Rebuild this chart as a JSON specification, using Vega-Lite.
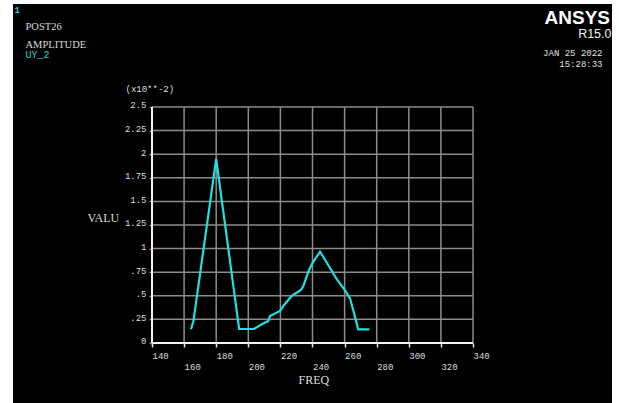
{
  "$schema": "https://vega.github.io/schema/vega-lite/v6.json",
  "width": 599,
  "height": 399,
  "autosize": "none",
  "padding": {"left": 13, "top": 4, "right": 7, "bottom": 0},
  "background": "white",
  "view": {"fill": "black", "stroke": null},
  "config": {
    "font": "Liberation Mono",
    "axis": {
      "labelFont": "Liberation Mono",
      "titleFont": "Liberation Mono",
      "labelColor": "#dcdcdc",
      "titleColor": "#dcdcdc",
      "titleFontWeight": "normal",
      "grid": false,
      "domain": false,
      "labelOverlap": false,
      "labelFlush": false,
      "labelBound": false
    }
  },
  "data": {
    "values": [
      {"FREQ": 164.3, "VALU": 0.145},
      {"FREQ": 165.8, "VALU": 0.23},
      {"FREQ": 180.0, "VALU": 1.95},
      {"FREQ": 194.3, "VALU": 0.148},
      {"FREQ": 203.5, "VALU": 0.148},
      {"FREQ": 208.4, "VALU": 0.198},
      {"FREQ": 212.5, "VALU": 0.233},
      {"FREQ": 213.5, "VALU": 0.286},
      {"FREQ": 219.8, "VALU": 0.339},
      {"FREQ": 221.8, "VALU": 0.392},
      {"FREQ": 227.0, "VALU": 0.498},
      {"FREQ": 232.8, "VALU": 0.561},
      {"FREQ": 234.3, "VALU": 0.604},
      {"FREQ": 237.4, "VALU": 0.755},
      {"FREQ": 240.1, "VALU": 0.851},
      {"FREQ": 244.7, "VALU": 0.967},
      {"FREQ": 249.8, "VALU": 0.826},
      {"FREQ": 255.1, "VALU": 0.675},
      {"FREQ": 260.2, "VALU": 0.561},
      {"FREQ": 263.4, "VALU": 0.473},
      {"FREQ": 268.5, "VALU": 0.145},
      {"FREQ": 275.4, "VALU": 0.145}
    ]
  },
  "layer": [
    {
      "data": {"values": [{"FREQ": 160}, {"FREQ": 180}, {"FREQ": 200}, {"FREQ": 220}, {"FREQ": 240}, {"FREQ": 260}, {"FREQ": 280}, {"FREQ": 300}, {"FREQ": 320}, {"FREQ": 340}]},
      "mark": {"type": "rule", "color": "#8c8c8c", "strokeWidth": 1.5},
      "encoding": {
        "x": {"field": "FREQ", "type": "quantitative", "scale": {"domain": [53.4, 426.6], "nice": false, "zero": false}, "axis": null},
        "y": {"datum": 0, "type": "quantitative", "scale": {"domain": [-0.636, 3.591], "nice": false, "zero": false}, "axis": null},
        "y2": {"datum": 2.5}
      }
    },
    {
      "data": {"values": [{"VALU": 0.25}, {"VALU": 0.5}, {"VALU": 0.75}, {"VALU": 1}, {"VALU": 1.25}, {"VALU": 1.5}, {"VALU": 1.75}, {"VALU": 2}, {"VALU": 2.25}, {"VALU": 2.5}]},
      "mark": {"type": "rule", "color": "#8c8c8c", "strokeWidth": 1.5},
      "encoding": {
        "y": {"field": "VALU", "type": "quantitative", "scale": {"domain": [-0.636, 3.591], "nice": false, "zero": false}, "axis": null},
        "x": {"datum": 140, "type": "quantitative", "scale": {"domain": [53.4, 426.6], "nice": false, "zero": false}, "axis": null},
        "x2": {"datum": 340}
      }
    },
    {
      "data": {"values": [{"FREQ": 140}]},
      "mark": {"type": "rule", "color": "#f2f2f2", "strokeWidth": 2},
      "encoding": {
        "x": {"field": "FREQ", "type": "quantitative", "scale": {"domain": [53.4, 426.6], "nice": false, "zero": false}, "axis": null},
        "y": {"datum": 0, "type": "quantitative", "scale": {"domain": [-0.636, 3.591], "nice": false, "zero": false}, "axis": null},
        "y2": {"datum": 2.5}
      }
    },
    {
      "data": {"values": [{"VALU": 0}]},
      "mark": {"type": "rule", "color": "#f2f2f2", "strokeWidth": 2},
      "encoding": {
        "y": {"field": "VALU", "type": "quantitative", "scale": {"domain": [-0.636, 3.591], "nice": false, "zero": false}, "axis": null},
        "x": {"datum": 140, "type": "quantitative", "scale": {"domain": [53.4, 426.6], "nice": false, "zero": false}, "axis": null},
        "x2": {"datum": 340}
      }
    },
    {
      "mark": {"type": "line", "color": "#1fe0e0", "strokeWidth": 2.2},
      "encoding": {
        "x": {
          "field": "FREQ", "type": "quantitative",
          "scale": {"domain": [53.4, 426.6], "nice": false, "zero": false},
          "axis": {
            "orient": "bottom", "offset": -60,
            "values": [140, 160, 180, 200, 220, 240, 260, 280, 300, 320, 340],
            "labelAlign": "left", "labelBaseline": "top", "labelFontSize": 9,
            "labelPadding": {"condition": {"test": "(datum.value - 140) % 40 == 0", "value": 4}, "value": 15},
            "ticks": true, "tickSize": 4, "tickColor": "#e6e6e6", "tickWidth": 1.5,
            "title": "FREQ", "titleFont": "Liberation Serif", "titleFontSize": 12, "titleAlign": "left", "titleBaseline": "alphabetic",
            "titleX": 285, "titleY": 40
          }
        },
        "y": {
          "field": "VALU", "type": "quantitative",
          "scale": {"domain": [-0.636, 3.591], "nice": false, "zero": false},
          "axis": {
            "orient": "left", "offset": -139,
            "values": [0, 0.25, 0.5, 0.75, 1, 1.25, 1.5, 1.75, 2, 2.25, 2.5],
            "labelExpr": "datum.value > 0 && datum.value < 1 ? substring(toString(datum.value), 1) : toString(datum.value)",
            "labelAlign": "right", "labelBaseline": "alphabetic", "labelOffset": 1, "labelFontSize": 9, "labelPadding": 3,
            "ticks": true, "tickSize": 3, "tickColor": "#8c8c8c", "tickWidth": 1.5,
            "title": "VALU", "titleFont": "Liberation Serif", "titleFontSize": 12, "titleAngle": 0, "titleAlign": "left", "titleBaseline": "alphabetic",
            "titleX": -65, "titleY": 217
          }
        }
      }
    },
    {
      "mark": {"type": "point", "opacity": 0},
      "encoding": {
        "x": {
          "field": "FREQ", "type": "quantitative",
          "scale": {"domain": [53.4, 426.6], "nice": false, "zero": false},
          "axis": {
            "orient": "top", "labels": false, "ticks": false, "domain": false, "grid": false,
            "title": "ANSYS", "titleFont": "Liberation Sans Narrow, Liberation Sans", "titleFontWeight": "bold", "titleFontSize": 19,
            "titleColor": "#ffffff", "titleAngle": 0, "titleAlign": "right", "titleBaseline": "alphabetic",
            "titleX": 596.5, "titleY": 19.5
          }
        },
        "y": {
          "field": "VALU", "type": "quantitative",
          "scale": {"domain": [-0.636, 3.591], "nice": false, "zero": false},
          "axis": {
            "orient": "left", "labels": false, "ticks": false, "domain": false, "grid": false,
            "title": "1", "titleFontSize": 9, "titleFontWeight": "bold", "titleColor": "#33cccc",
            "titleAngle": 0, "titleAlign": "left", "titleBaseline": "alphabetic",
            "titleX": 1, "titleY": 8.5
          }
        }
      }
    },
    {
      "mark": {"type": "point", "opacity": 0},
      "encoding": {
        "x": {
          "field": "FREQ", "type": "quantitative",
          "scale": {"domain": [53.4, 426.6], "nice": false, "zero": false},
          "axis": {
            "orient": "top", "labels": false, "ticks": false, "domain": false, "grid": false,
            "title": "R15.0", "titleFont": "Liberation Sans", "titleFontSize": 12.5,
            "titleColor": "#f0f0f0", "titleAngle": 0, "titleAlign": "right", "titleBaseline": "alphabetic",
            "titleX": 598, "titleY": 33.5
          }
        },
        "y": {
          "field": "VALU", "type": "quantitative",
          "scale": {"domain": [-0.636, 3.591], "nice": false, "zero": false},
          "axis": {
            "orient": "left", "labels": false, "ticks": false, "domain": false, "grid": false,
            "title": ["POST26", "AMPLITUDE"], "titleFont": "Liberation Serif", "titleFontSize": 10.5, "titleLineHeight": 18, "titleColor": "#d8d8d8",
            "titleAngle": 0, "titleAlign": "left", "titleBaseline": "alphabetic",
            "titleX": 12, "titleY": 25
          }
        }
      }
    },
    {
      "mark": {"type": "point", "opacity": 0},
      "encoding": {
        "x": {
          "field": "FREQ", "type": "quantitative",
          "scale": {"domain": [53.4, 426.6], "nice": false, "zero": false},
          "axis": {
            "orient": "top", "labels": false, "ticks": false, "domain": false, "grid": false,
            "title": ["JAN 25 2022", "15:28:33"], "titleFontSize": 9, "titleLineHeight": 11,
            "titleColor": "#e0e0e0", "titleAngle": 0, "titleAlign": "right", "titleBaseline": "alphabetic",
            "titleX": 589, "titleY": 51.5
          }
        },
        "y": {
          "field": "VALU", "type": "quantitative",
          "scale": {"domain": [-0.636, 3.591], "nice": false, "zero": false},
          "axis": {
            "orient": "left", "labels": false, "ticks": false, "domain": false, "grid": false,
            "title": "UY_2", "titleFontSize": 10, "titleColor": "#33cccc",
            "titleAngle": 0, "titleAlign": "left", "titleBaseline": "alphabetic",
            "titleX": 12, "titleY": 53
          }
        }
      }
    },
    {
      "mark": {"type": "point", "opacity": 0},
      "encoding": {
        "x": {
          "field": "FREQ", "type": "quantitative",
          "scale": {"domain": [53.4, 426.6], "nice": false, "zero": false},
          "axis": {
            "orient": "top", "labels": false, "ticks": false, "domain": false, "grid": false,
            "title": "(x10**-2)", "titleFontSize": 9,
            "titleColor": "#dcdcdc", "titleAngle": 0, "titleAlign": "left", "titleBaseline": "alphabetic",
            "titleX": 112, "titleY": 87
          }
        }
      }
    }
  ],
  "resolve": {"axis": {"x": "independent", "y": "independent"}}
}
